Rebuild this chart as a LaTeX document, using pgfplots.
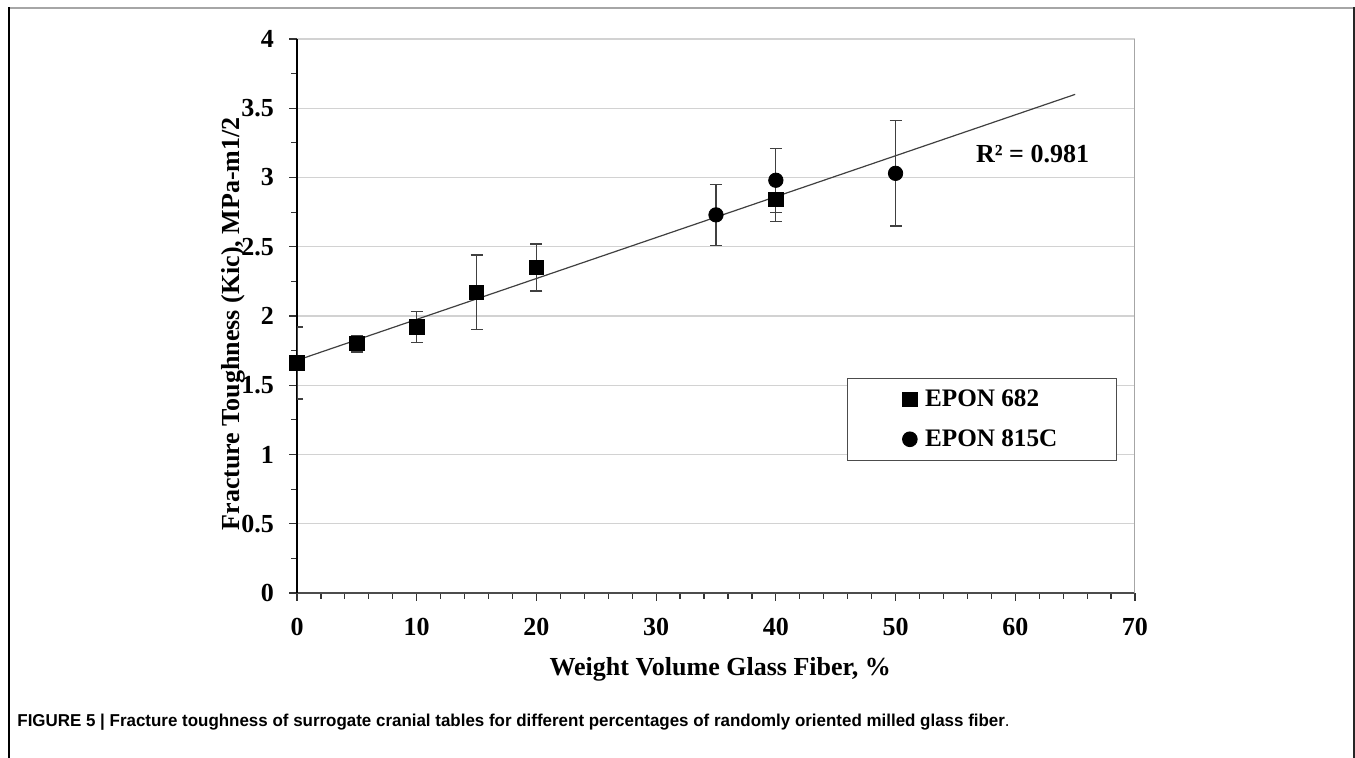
\documentclass[border=0pt]{standalone}
\usepackage{pgfplots}
\usepackage{pgfplotstable}
\pgfplotsset{compat=1.18}
\usepackage{fontspec}
\setmainfont{Liberation Serif}
\newfontfamily\capfont{Liberation Sans}[FakeStretch=0.985]

% EPON 682: x, mean, error
\pgfplotstableread{
x y e
0 1.66 0.26
5 1.80 0.06
10 1.92 0.11
15 2.17 0.27
20 2.35 0.17
40 2.84 0.16
}\eponA

% EPON 815C
\pgfplotstableread{
x y e
35 2.73 0.22
40 2.98 0.23
50 3.03 0.38
}\eponB

\begin{document}
\begin{tikzpicture}[x=1pt,y=1pt]
\useasboundingbox (0,0) rectangle (677.5,379);
\draw[gray!70, line width=0.8pt] (4.5,375) -- (677,375);
\draw[black, line width=0.9pt] (4.5,0) -- (4.5,375.4);
\draw[black!85, line width=0.9pt] (677,0) -- (677,375.4);

\begin{axis}[
  at={(148.5pt,82.5pt)}, anchor=south west,
  scale only axis, width=419pt, height=277pt,
  xmin=0, xmax=70, ymin=0, ymax=4,
  axis lines=left, axis line style={-},
  x axis line style={black!70, line width=0.7pt},
  y axis line style={black, line width=0.7pt},
  xtick distance=10, ytick distance=0.5,
  minor x tick num=4, minor y tick num=1,
  tick align=outside,
  major tick length=4pt, minor tick length=3pt,
  every tick/.style={black!80, line width=0.6pt},
  ymajorgrids, grid style={gray!35, line width=0.6pt},
  /pgf/number format/assume math mode=true,
  ticklabel style={font=\fontsize{13}{15}\selectfont\bfseries},
  xticklabel style={yshift=-5pt},
  yticklabel style={xshift=-4pt},
  xlabel={Weight Volume Glass Fiber, \%},
  ylabel={Fracture Toughness (Kic), MPa-m1/2},
  label style={font=\fontsize{13}{15}\selectfont\bfseries},
  xlabel style={at={(axis description cs:0.505,0)}, anchor=base, yshift=-41.5pt},
  ylabel style={at={(axis description cs:-0.0765,0.486)}, anchor=center},
  legend style={at={(axis cs:45.95,1.552)}, anchor=north west,
    draw=black!70, line width=0.6pt, inner xsep=27.5pt, inner ysep=3.5pt,
    font=\fontsize{12.6}{15}\selectfont\bfseries, row sep=6pt, column sep=2pt},
  legend cell align=left,
  legend image code/.code={\draw[#1] plot coordinates {(0.12cm,0cm)};},
]
\addplot[black!75, line width=0.6pt, forget plot] coordinates {(0,1.68) (65,3.60)};

\addplot[black, only marks, mark=square*, mark size=3.6pt,
  error bars/.cd, y dir=both, y explicit,
  error bar style={black!75, line width=0.6pt},
  error mark options={rotate=90, mark size=3pt, black!75, line width=0.6pt}]
  table[x=x, y=y, y error=e] {\eponA};
\addlegendentry{EPON 682}

\addplot[black, only marks, mark=*, mark size=3.6pt,
  error bars/.cd, y dir=both, y explicit,
  error bar style={black!75, line width=0.6pt},
  error mark options={rotate=90, mark size=3pt, black!75, line width=0.6pt}]
  table[x=x, y=y, y error=e] {\eponB};
\addlegendentry{EPON 815C}

\draw[gray!70, line width=0.6pt] (rel axis cs:1,0) -- (rel axis cs:1,1);
\node[font=\fontsize{13}{15}\selectfont\bfseries, anchor=base] at (axis cs:61.45,3.11) {R² = 0.981};
\end{axis}

\node[anchor=base west, inner sep=0pt, font=\capfont\fontsize{8.6}{10}\selectfont] at (8.5,15.5)
  {\textbf{FIGURE 5 | Fracture toughness of surrogate cranial tables for different percentages of randomly oriented milled glass fiber}.};
\end{tikzpicture}
\end{document}
